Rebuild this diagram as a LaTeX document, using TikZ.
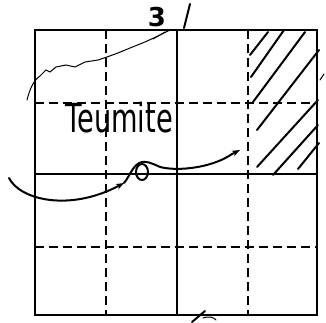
\documentclass[tikz,border=0pt]{standalone}
\usepackage{fontspec}
\setmainfont{DejaVu Sans}
\usetikzlibrary{arrows.meta}
\begin{document}
\begin{tikzpicture}[x=1pt,y=-1pt,
  frame/.style={line width=2.2pt,black},
  solidgrid/.style={line width=1.5pt,black},
  dashgrid/.style={line width=1.8pt,black,dash pattern=on 9pt off 5pt},
  hatch/.style={line width=2pt,black,line cap=round},
  pen/.style={line width=2pt,black,line cap=round},
  thinpen/.style={line width=1pt,black,line cap=round},
  lbl/.style={inner sep=0pt,font=\bfseries\fontsize{26}{26}\selectfont}]
\useasboundingbox (0,0) rectangle (326,322);
% grid
\draw[dashgrid] (106,30) -- (106,315);
\draw[dashgrid] (248,30) -- (248,315);
\draw[dashgrid] (35,103) -- (317,103);
\draw[dashgrid] (35,247) -- (317,247);
\draw[solidgrid] (177,30) -- (177,315);
\draw[solidgrid] (35,174) -- (317,174);
\draw[frame] (35,30) rectangle (317,315);
% hatching
\draw[hatch] (250,55) -- (268,32);
\draw[hatch] (251,77) -- (284,30);
\draw[hatch] (253,102) -- (305,32);
\draw[hatch] (257,130) -- (319,50);
\draw[hatch] (257,167) -- (318,100);
\draw[hatch] (273,175) -- (318,125);
\draw[hatch] (298,169) -- (319,143);
\draw[thinpen] (320,80) -- (324,74);
% top label
\node[lbl] (three) at (157,17) {3};
\coordinate (s1) at (190,4);
\coordinate (s2) at (184,28);
\draw[pen] (s1) -- (s2);
% wavy line
\draw[thinpen] (27,100) .. controls (30,88) and (34,80) .. (40,76)
  -- (46,70) -- (50,72) -- (56,67) -- (66,65) -- (75,67) -- (85,62) -- (98,60)
  -- (107,57) -- (118,53) -- (130,48) -- (145,42) -- (158,36) -- (170,30);
\draw[thinpen] (153,39) -- (165,32);
% handwritten word
\node[inner sep=0pt,font=\fontsize{40}{40}\selectfont,xscale=0.68] (word) at (119,118) {Teumite};
% curve with loop
\coordinate (c0) at (9,178);
\coordinate (c1) at (124,183);
\draw[pen,-{Stealth[length=8pt,width=6pt]}] (c0) .. controls (20,200) and (70,212) .. (c1);
\draw[pen] (c1) .. controls (130,176) and (133,164) .. (142,162)
  .. controls (152,161) and (156,167) .. (165,168)
  .. controls (185,171) and (215,166) .. (232,154);
\coordinate (c2) at (240,150);
\draw[pen,-{Stealth[length=8pt,width=6pt]}] (232,154) -- (c2);
\draw[pen] (142,172) ellipse [x radius=6pt, y radius=8pt];
% bottom mark
\draw[pen] (192,322) -- (205,311);
\draw[thinpen] (203,318) .. controls (208,316) and (214,317) .. (216,320);
\end{tikzpicture}
\end{document}
